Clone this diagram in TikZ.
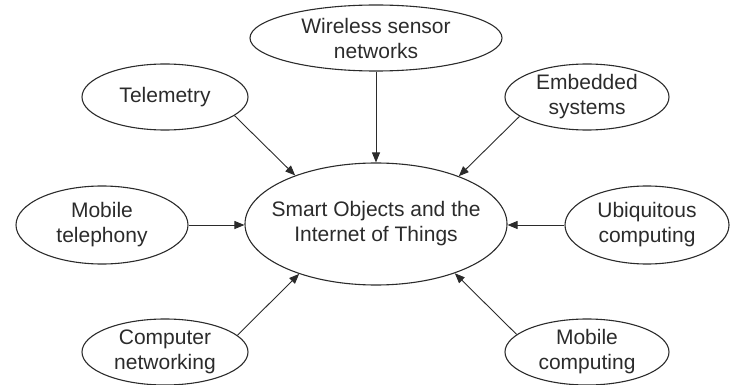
\documentclass[tikz,border=0pt]{standalone}
\usepackage{fontspec}
\setmainfont{Liberation Sans}
\usetikzlibrary{shapes.geometric,arrows.meta}
\definecolor{ink}{HTML}{2B2B2B}
\begin{document}
\begin{tikzpicture}[x=1pt,y=-1pt,
  bubble/.style={ellipse,draw=ink,line width=1.1pt,inner xsep=0pt,inner ysep=-6pt,align=center,
    text=ink,font=\fontsize{21}{25}\selectfont},
  link/.style={draw=ink,line width=0.9pt,-{Triangle[length=10pt,width=8pt]}}]
\useasboundingbox (0,0) rectangle (731,385);
\node[bubble,inner xsep=-20pt,minimum width=262pt,minimum height=122pt] (c) at (376,224) {Smart Objects and the\\Internet of Things};
\node[bubble,minimum width=252pt,minimum height=66pt] (w) at (376,38) {Wireless sensor\\networks};
\node[bubble,minimum width=166pt,minimum height=66pt] (tel) at (165,97) {Telemetry};
\node[bubble,minimum width=164pt,minimum height=66pt] (emb) at (587,97) {Embedded\\systems};
\node[bubble,minimum width=172pt,minimum height=78pt] (mt) at (102,225) {Mobile\\telephony};
\node[bubble,minimum width=164pt,minimum height=78pt] (ub) at (647,225) {Ubiquitous\\computing};
\node[bubble,minimum width=166pt,minimum height=66pt] (cn) at (165,352) {Computer\\networking};
\node[bubble,minimum width=164pt,minimum height=66pt] (mc) at (587,352) {Mobile\\computing};
\draw[link] (w.south) -- (c.north);
\draw[link] (tel.-15) -- (c.149);
\draw[link] (emb.196) -- (c.30);
\draw[link] (mt.east) -- (mt.east -| c.west);
\draw[link] (ub.west) -- (ub.west -| c.east);
\draw[link] (cn.13) -- (c.213);
\draw[link] (mc.166) -- (c.-32);
\end{tikzpicture}
\end{document}
